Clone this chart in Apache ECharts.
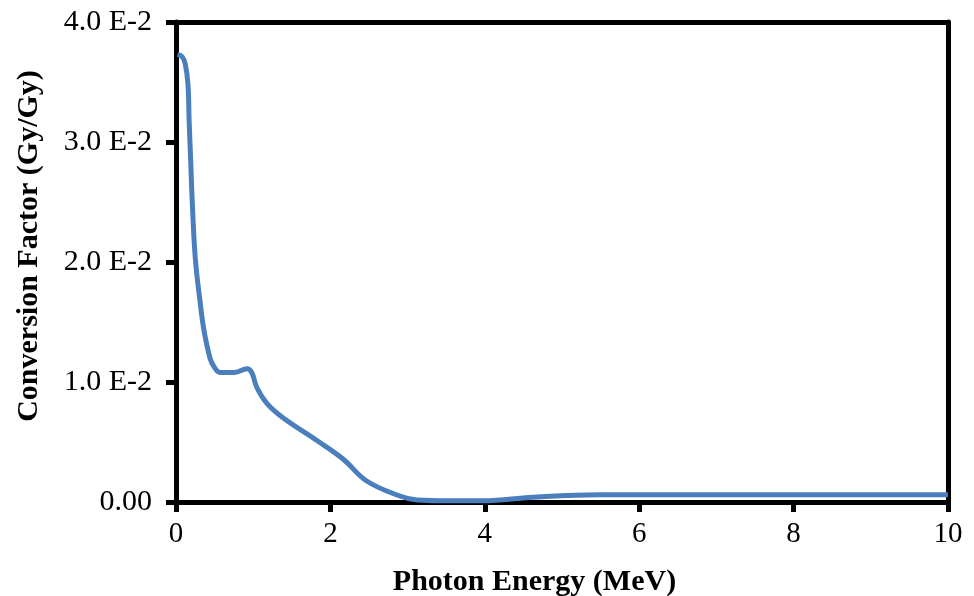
<!DOCTYPE html>
<html>
<head>
<meta charset="utf-8">
<script src="https://cdn.jsdelivr.net/npm/echarts@6/dist/echarts.min.js"></script>
<style>
  html, body { margin: 0; padding: 0; background: #fff; }
  #chart { width: 974px; height: 596px; }
</style>
</head>
<body>
<div id="chart"></div>
<script>
// photon energy (MeV) and conversion factor (Gy/Gy)
const energy = [0.02, 0.08, 0.12, 0.155, 0.17, 0.19, 0.21, 0.25, 0.31, 0.36, 0.44, 0.49, 0.57, 0.76, 0.92, 0.98,
  1.05, 1.18, 1.39, 1.83, 2.16, 2.47, 2.9, 3.12, 3.55, 3.98, 4.62, 5.49, 6.79, 8.5, 10];
const factor = [0.0373, 0.0371, 0.0365, 0.0348, 0.0318, 0.0285, 0.0251, 0.0203, 0.0168, 0.0144, 0.012, 0.0113,
  0.0108, 0.0108, 0.0111, 0.0108, 0.0095, 0.0082, 0.007, 0.0051, 0.0036, 0.00175, 0.0005, 0.00017, 0.0001,
  0.0001, 0.0004, 0.0006, 0.0006, 0.0006, 0.0006];
const yTickLabels = { 0: '0.00', 1: '1.0 E-2', 2: '2.0 E-2', 3: '3.0 E-2', 4: '4.0 E-2' };

const chart = echarts.init(document.getElementById('chart'));
const font = 'Liberation Serif';
const frame = { show: true, onZero: false, lineStyle: { color: '#000', width: 5 } };

chart.setOption({
  animation: false,
  grid: { left: 176, right: 26, top: 22, bottom: 94, outerBoundsMode: 'none', containLabel: false },
  xAxis: [
    {
      type: 'value',
      min: 0,
      max: 10,
      interval: 2,
      splitLine: { show: false },
      axisLine: frame,
      axisTick: { show: true, inside: false, length: 10, lineStyle: { color: '#000', width: 5 } },
      axisLabel: { color: '#000', fontFamily: font, fontSize: 29, margin: 18 },
      name: 'Photon Energy (MeV)',
      nameLocation: 'middle',
      nameGap: 65,
      nameTextStyle: { color: '#000', fontFamily: font, fontWeight: 'bold', fontSize: 30, padding: [0, 55, 0, 0] }
    },
    {
      type: 'value',
      position: 'top',
      min: 0,
      max: 10,
      axisLine: frame,
      axisTick: { show: false },
      axisLabel: { show: false },
      splitLine: { show: false }
    }
  ],
  yAxis: [
    {
      type: 'value',
      min: 0,
      max: 0.04,
      interval: 0.01,
      splitLine: { show: false },
      axisLine: frame,
      axisTick: { show: true, inside: false, length: 10, lineStyle: { color: '#000', width: 5 } },
      axisLabel: {
        color: '#000',
        fontFamily: font,
        fontSize: 30,
        margin: 24,
        formatter: v => yTickLabels[Math.round(v * 100)]
      },
      name: 'Conversion Factor (Gy/Gy)',
      nameLocation: 'middle',
      nameGap: 132,
      nameTextStyle: { color: '#000', fontFamily: font, fontWeight: 'bold', fontSize: 30, padding: [0, 0, 0, 32] }
    },
    {
      type: 'value',
      position: 'right',
      min: 0,
      max: 0.04,
      axisLine: frame,
      axisTick: { show: false },
      axisLabel: { show: false },
      splitLine: { show: false }
    }
  ],
  series: [
    {
      type: 'line',
      data: energy.map((e, i) => [e, factor[i]]),
      smooth: 0.4,
      showSymbol: false,
      lineStyle: { color: '#4a7ebd', width: 5 }
    }
  ]
});
</script>
</body>
</html>
